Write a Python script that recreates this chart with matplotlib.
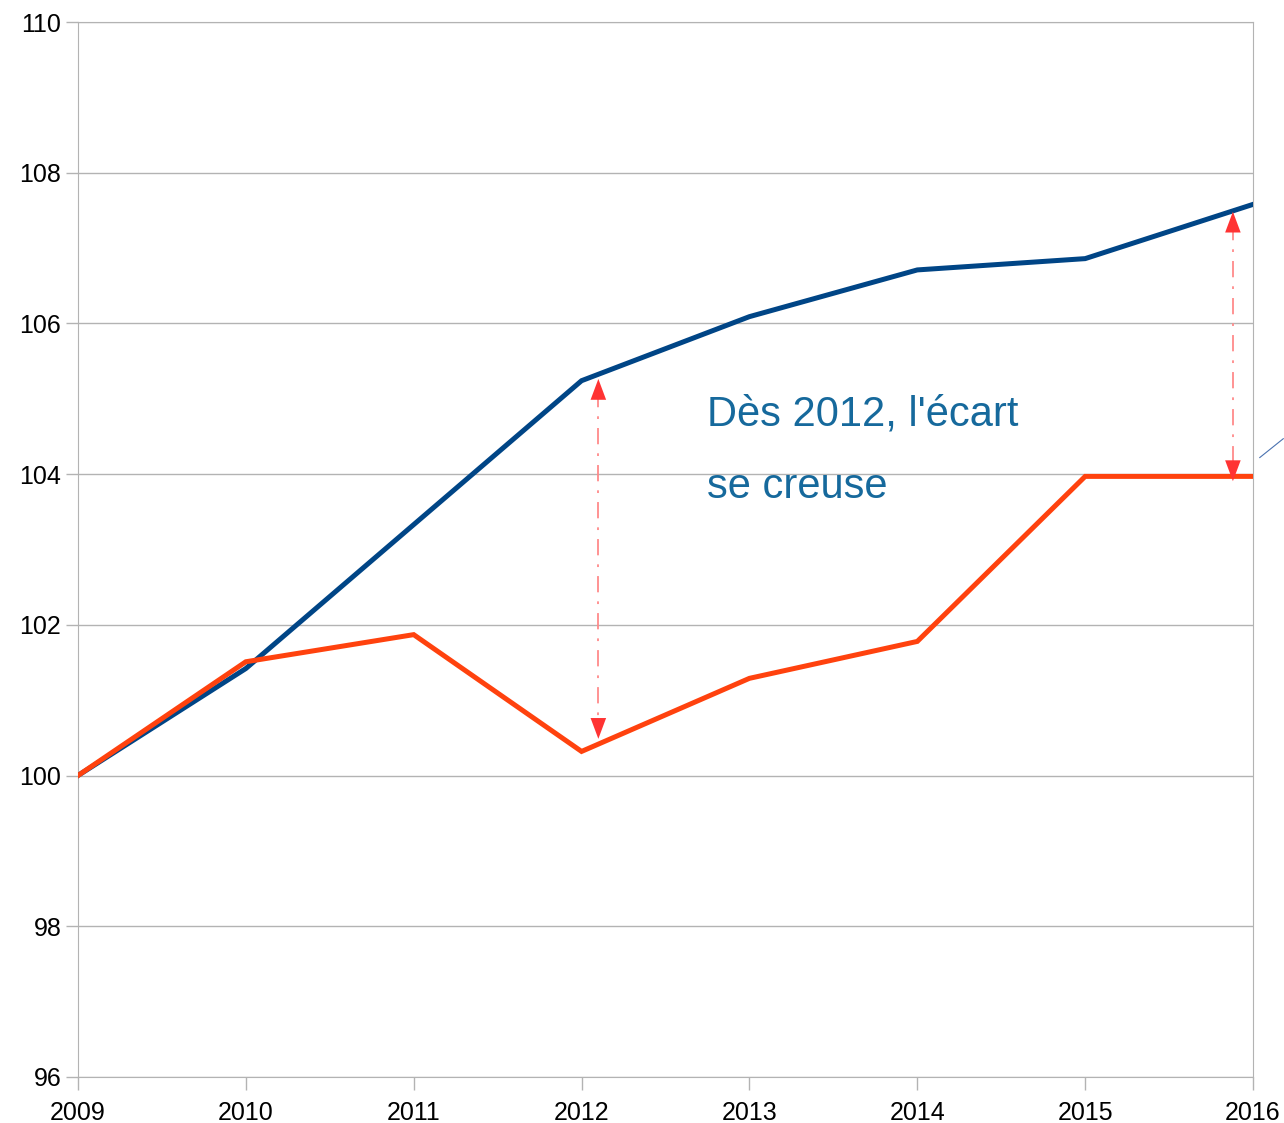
import numpy as np
import matplotlib.pyplot as plt

# # # # # data # # # # #

years = [2009, 2010, 2011, 2012, 2013, 2014, 2015, 2016]
blue_vals = [100.0, 101.42, 103.33, 105.24, 106.09, 106.71, 106.86, 107.58]
orange_vals = [100.0, 101.51, 101.87, 100.32, 101.29, 101.78, 103.97, 103.97]
y_ticks = [96, 98, 100, 102, 104, 106, 108, 110]

# gap arrows : (x, top, bottom)
gap_arrows = [(2012.1, 105.3, 100.45), (2015.88, 107.52, 103.87)]

plt.rcParams['font.family'] = ['Liberation Sans', 'DejaVu Sans']

fig = plt.figure(figsize=(12.84, 11.23), dpi=100)
ax = fig.add_axes([0.0607, 0.041, 0.9152, 0.9394])

grid_col = '#b3b3b3'
for yv in y_ticks:
	ax.axhline(yv, color=grid_col, linewidth=1, zorder=0)

ax.plot(years, blue_vals, color='#004586', linewidth=3.6, zorder=3,
	solid_joinstyle='miter')
ax.plot(years, orange_vals, color='#ff420e', linewidth=3.6, zorder=3,
	solid_joinstyle='miter')

# double arrows showing the gap
arrow_props = dict(arrowstyle='-|>,head_width=0.28,head_length=0.75',
	color='#ff3333', lw=0, mutation_scale=20)
for xa, top, bot in gap_arrows:
	ax.plot([xa, xa], [top - 0.2, bot + 0.2], color='#ff8a8a', linewidth=1.3,
		linestyle=(0, (9, 5, 1.5, 5)), zorder=2)
	ax.annotate('', xy=(xa, top), xytext=(xa, top - 0.35),
		arrowprops=arrow_props, zorder=4)
	ax.annotate('', xy=(xa, bot), xytext=(xa, bot + 0.35),
		arrowprops=arrow_props, zorder=4)

ax.text(2012.75, 104.79, "Dès 2012, l'écart", color='#16699c', fontsize=30,
	va='center', ha='left')
ax.text(2012.75, 103.83, "se creuse", color='#16699c', fontsize=30,
	va='center', ha='left')

# piece of a callout line at the right edge
ax.plot([2016.04, 2016.18], [104.22, 104.47], color='#4a72b0', linewidth=0.8,
	clip_on=False)

ax.set_xlim(2009, 2016)
ax.set_ylim(96, 110)
ax.set_xticks(years)
ax.set_yticks(y_ticks)
ax.set_xticklabels([str(y) for y in years])

for s in ax.spines.values():
	s.set_color(grid_col)
ax.tick_params(axis='both', colors=grid_col, labelcolor='black', labelsize=18,
	length=9, width=1)
ax.tick_params(axis='x', pad=8)
ax.tick_params(axis='y', pad=3)

fig.savefig('out.png', dpi=100)
